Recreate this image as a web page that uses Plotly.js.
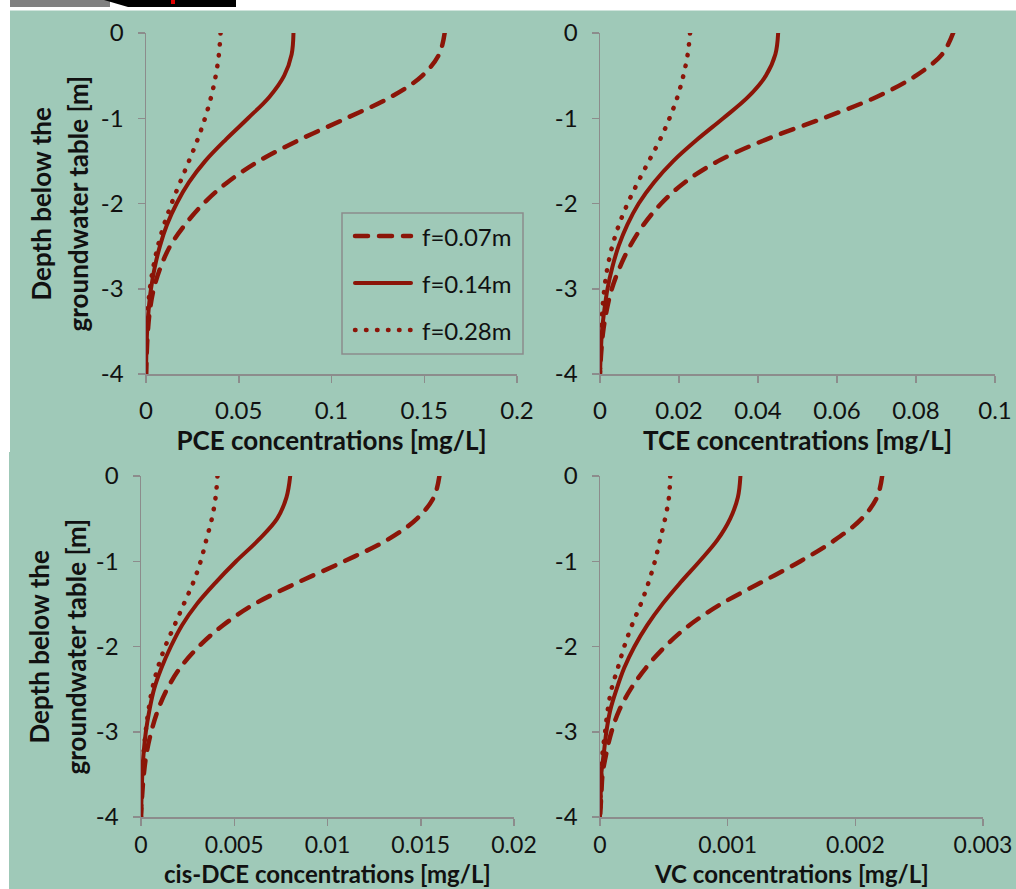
<!DOCTYPE html>
<html>
<head>
<meta charset="utf-8">
<script src="https://cdn.plot.ly/plotly-3.0.1.min.js"></script>
<style>
  html, body { margin: 0; padding: 0; background: #ffffff; }
  #chart { width: 1016px; height: 889px; }
  .scatterlayer .js-line { stroke-linecap: round; }
  .shapelayer path { stroke-linecap: round; }
</style>
</head>
<body>
<div id="chart"></div>
<script>
// ---------------- data ----------------
const depth = [0, -0.25, -0.5, -0.75, -1, -1.25, -1.5, -1.75, -2, -2.25, -2.5, -2.75, -3, -3.25, -3.5, -3.75, -4];

const seriesNames = ['f=0.07m', 'f=0.14m', 'f=0.28m'];

// PCE [mg/L]
const pce07 = [0.161, 0.158, 0.149, 0.132, 0.108, 0.083, 0.061, 0.044, 0.031, 0.021, 0.013, 0.0078, 0.0042, 0.0021, 0.0010, 0.0004, 0.0001];
const pce14 = [0.0795, 0.0785, 0.0745, 0.0665, 0.0550, 0.0430, 0.0320, 0.0232, 0.0165, 0.0113, 0.0075, 0.0047, 0.0027, 0.0014, 0.0006, 0.0002, 0.0];
const pce28 = [0.0402, 0.0393, 0.0376, 0.0351, 0.0318, 0.0278, 0.0232, 0.0184, 0.0138, 0.0097, 0.0064, 0.0039, 0.0021, 0.0010, 0.0004, 0.0001, 0.0];

// TCE [mg/L]
const tce07 = [0.0894, 0.0866, 0.0800, 0.0700, 0.0565, 0.0420, 0.0300, 0.0215, 0.0155, 0.0110, 0.0076, 0.0050, 0.0030, 0.0017, 0.0008, 0.0003, 0.0];
const tce14 = [0.0451, 0.0444, 0.0420, 0.0375, 0.0312, 0.0246, 0.0186, 0.0137, 0.0098, 0.0069, 0.0047, 0.0031, 0.0019, 0.0011, 0.0005, 0.0002, 0.0];
const tce28 = [0.0228, 0.0222, 0.0211, 0.0196, 0.0176, 0.0152, 0.0124, 0.0096, 0.0070, 0.0048, 0.0031, 0.0019, 0.0011, 0.0006, 0.0003, 0.0001, 0.0];

// cis-DCE [mg/L]
const dce07 = [0.0160, 0.0157, 0.0148, 0.0132, 0.0109, 0.0084, 0.0061, 0.0044, 0.0031, 0.0021, 0.0014, 0.0009, 0.00055, 0.0003, 0.00015, 0.00006, 0.0];
const dce14 = [0.0080, 0.0078, 0.0073, 0.0063, 0.0051, 0.0040, 0.0030, 0.0022, 0.0016, 0.0011, 0.0007, 0.00045, 0.00026, 0.00014, 0.00007, 0.00003, 0.0];
const dce28 = [0.0041, 0.0040, 0.0038, 0.0035, 0.0032, 0.0028, 0.0023, 0.0018, 0.0013, 0.0009, 0.0006, 0.0004, 0.00025, 0.00014, 0.00007, 0.00003, 0.0];

// VC [mg/L]
const vc07 = [0.00221, 0.00217, 0.00205, 0.00184, 0.00157, 0.00126, 0.00095, 0.00070, 0.00051, 0.00036, 0.00024, 0.00015, 0.00009, 0.00005, 0.00002, 0.00001, 0.0];
const vc14 = [0.00110, 0.00108, 0.00102, 0.00092, 0.00078, 0.00063, 0.00049, 0.00037, 0.00027, 0.00019, 0.00013, 0.00008, 0.00005, 0.00003, 0.00001, 0.000005, 0.0];
const vc28 = [0.00055, 0.00054, 0.00051, 0.00047, 0.00043, 0.00038, 0.00032, 0.00025, 0.00019, 0.00014, 0.00009, 0.00006, 0.00004, 0.00002, 0.00001, 0.000004, 0.0];

const yTickVals = [0, -1, -2, -3, -4];
const yTickText = ['0', '-1', '-2', '-3', '-4'];

const xTitles = ['PCE concentrations [mg/L]', 'TCE concentrations [mg/L]', 'cis-DCE concentrations [mg/L]', 'VC concentrations [mg/L]'];
const yTitleLines = ['Depth below the', 'groundwater table [m]'];

// ---------------- styling ----------------
const W = 1016, H = 889;
const px = v => v / W;
const py = v => 1 - v / H;

const RED = '#8B1508';
const GREEN = '#9FC9B8';
const AXC = '#8C8C8C';
const FONT = 'Lato, "Open Sans", sans-serif';
const TICK_SIZE = 24, TITLE_SIZE = 26;

const styles = [
  { dash: '13px,11px', width: 4.5 },
  { dash: 'solid', width: 4 },
  { dash: '0.5px,10.5px', width: 4.5 }
];

const panels = [
  { sets: [pce07, pce14, pce28], xa: 'x', ya: 'y' },
  { sets: [tce07, tce14, tce28], xa: 'x2', ya: 'y2' },
  { sets: [dce07, dce14, dce28], xa: 'x3', ya: 'y3' },
  { sets: [vc07, vc14, vc28], xa: 'x4', ya: 'y4' }
];

const traces = [];
panels.forEach(p => {
  p.sets.forEach((vals, i) => {
    traces.push({
      type: 'scatter', mode: 'lines',
      x: vals, y: depth,
      xaxis: p.xa, yaxis: p.ya,
      name: seriesNames[i], showlegend: false,
      line: { color: RED, width: styles[i].width, dash: styles[i].dash, shape: 'spline', smoothing: 1 },
      hoverinfo: 'x+y'
    });
  });
});

function xAxis(domain, range, dtick, anchor, title, tickGap, tickSize) {
  const ax = {
    domain: domain, range: range, dtick: dtick, tick0: 0, anchor: anchor,
    showline: true, linecolor: AXC, linewidth: 1.5,
    ticks: 'outside', ticklen: 7, tickwidth: 1.5, tickcolor: AXC,
    showgrid: false, zeroline: false, exponentformat: 'none',
    tickfont: { family: FONT, size: tickSize, color: '#111' },
    ticklabelstandoff: tickGap,
    automargin: false, fixedrange: true
  };
  if (title) {
    ax.title = { text: title, font: { family: FONT, size: TITLE_SIZE, color: '#111', weight: 'bold' }, standoff: 2 };
  }
  return ax;
}
function yAxis(domain, anchor) {
  return {
    domain: domain, range: [-4, 0], anchor: anchor,
    tickmode: 'array', tickvals: yTickVals, ticktext: yTickText,
    showline: true, linecolor: AXC, linewidth: 1.5,
    ticks: 'outside', ticklen: 7, tickwidth: 1.5, tickcolor: AXC,
    showgrid: false, zeroline: false,
    tickfont: { family: FONT, size: TICK_SIZE, color: '#111' },
    ticklabelstandoff: 9,
    automargin: false, fixedrange: true
  };
}

const topY = [py(374), py(33)];
const botY = [py(817), py(476)];
const dom3 = [px(141), px(514)];
const dom4 = [px(600), px(983)];

const legendRows = [236, 283, 330];
const shapes = [
  // white page edges
  { type: 'rect', xref: 'paper', yref: 'paper', x0: 0, x1: px(10), y0: py(452), y1: 1, fillcolor: '#fff', line: { width: 0 }, layer: 'above' },
  { type: 'rect', xref: 'paper', yref: 'paper', x0: 0, x1: px(9), y0: 0, y1: py(452), fillcolor: '#fff', line: { width: 0 }, layer: 'above' },
  { type: 'rect', xref: 'paper', yref: 'paper', x0: 0, x1: 1, y0: py(10.5), y1: 1, fillcolor: '#fff', line: { width: 0 }, layer: 'above' },
  // cropped picture strip at the top left
  { type: 'rect', xref: 'paper', yref: 'paper', x0: px(10), x1: px(110), y0: py(7), y1: 1, fillcolor: '#808080', line: { width: 0 }, layer: 'above' },
  { type: 'path', xref: 'paper', yref: 'paper', path: 'M ' + px(104) + ',' + py(0) + ' L ' + px(236) + ',' + py(0) + ' L ' + px(236) + ',' + py(7) + ' L ' + px(128) + ',' + py(7) + ' Z', fillcolor: '#000', line: { width: 0 }, layer: 'above' },
  { type: 'rect', xref: 'paper', yref: 'paper', x0: px(171), x1: px(175), y0: py(4), y1: 1, fillcolor: '#e00000', line: { width: 0 }, layer: 'above' },
  // legend box
  { type: 'rect', xref: 'paper', yref: 'paper', x0: px(342), x1: px(523), y0: py(354), y1: py(213), fillcolor: 'rgba(0,0,0,0)', line: { color: AXC, width: 1.5 }, layer: 'above' }
];
legendRows.forEach((r, i) => {
  shapes.push({ type: 'line', xref: 'paper', yref: 'paper', x0: px(355), x1: px(411), y0: py(r), y1: py(r),
    line: { color: RED, width: styles[i].width, dash: styles[i].dash }, layer: 'above' });
});

const annotations = [];
legendRows.forEach((r, i) => {
  annotations.push({ xref: 'paper', yref: 'paper', x: px(420), y: py(r), xanchor: 'left', yanchor: 'middle',
    text: seriesNames[i], showarrow: false, font: { family: FONT, size: 24, color: '#111' } });
});
[[topY, 40, 77], [botY, 38, 75]].forEach(([dom, x1, x2]) => {
  const yc = (dom[0] + dom[1]) / 2;
  annotations.push({ xref: 'paper', yref: 'paper', x: px(x1), y: yc, xanchor: 'center', yanchor: 'middle', textangle: -90,
    text: yTitleLines[0], showarrow: false, font: { family: FONT, size: TITLE_SIZE, color: '#111', weight: 'bold' } });
  annotations.push({ xref: 'paper', yref: 'paper', x: px(x2), y: yc, xanchor: 'center', yanchor: 'middle', textangle: -90,
    text: yTitleLines[1], showarrow: false, font: { family: FONT, size: TITLE_SIZE, color: '#111', weight: 'bold' } });
});
// bottom-row x titles, set against the lower edge of the picture
[[dom3, xTitles[2]], [dom4, xTitles[3]]].forEach(([dom, t]) => {
  annotations.push({ xref: 'paper', yref: 'paper', x: (dom[0] + dom[1]) / 2, y: 0, xanchor: 'center', yanchor: 'bottom',
    borderpad: 0, text: t, showarrow: false, font: { family: FONT, size: 24, color: '#111', weight: 'bold' } });
});

const layout = {
  width: W, height: H,
  margin: { l: 0, r: 0, t: 0, b: 0 },
  paper_bgcolor: GREEN, plot_bgcolor: 'rgba(0,0,0,0)',
  showlegend: false,
  font: { family: FONT, color: '#111' },
  xaxis: xAxis([px(146), px(517)], [0, 0.2], 0.05, 'y', xTitles[0], 8, TICK_SIZE),
  yaxis: yAxis(topY, 'x'),
  xaxis2: xAxis([px(600), px(995)], [0, 0.1], 0.02, 'y2', xTitles[1], 8, TICK_SIZE),
  yaxis2: yAxis(topY, 'x2'),
  xaxis3: xAxis(dom3, [0, 0.02], 0.005, 'y3', null, 0, 23),
  yaxis3: yAxis(botY, 'x3'),
  xaxis4: xAxis(dom4, [0, 0.003], 0.001, 'y4', null, 0, 23),
  yaxis4: yAxis(botY, 'x4'),
  shapes: shapes,
  annotations: annotations
};

Plotly.newPlot('chart', traces, layout, { displayModeBar: false, staticPlot: true });
</script>
</body>
</html>
